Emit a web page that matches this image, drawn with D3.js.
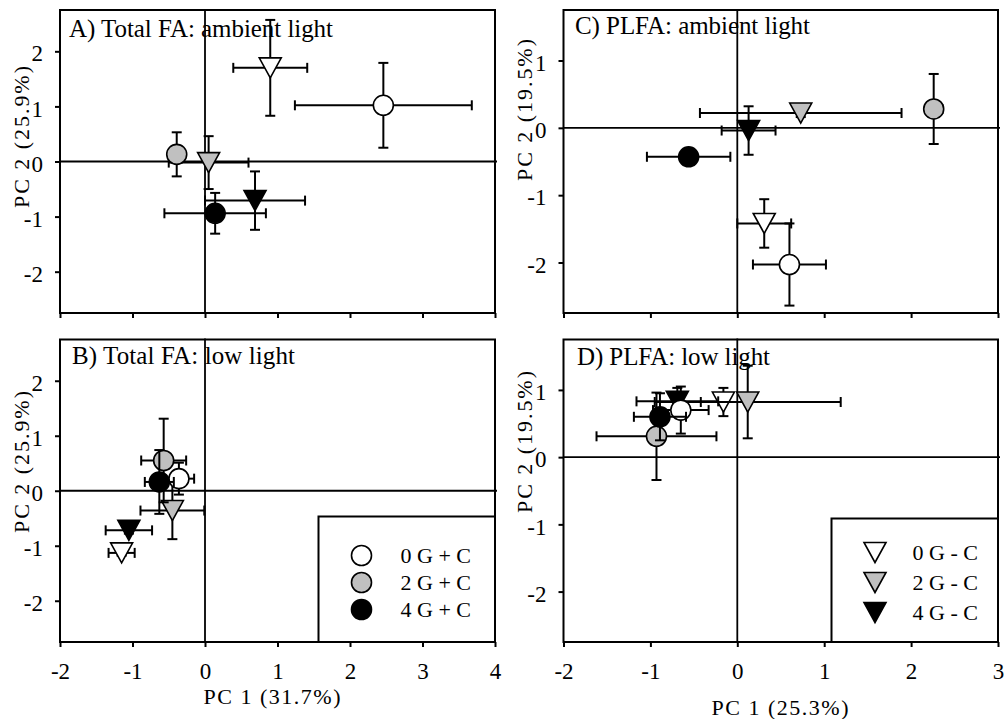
<!DOCTYPE html>
<html>
<head>
<meta charset="utf-8">
<script src="https://cdn.jsdelivr.net/npm/d3@7"></script>
<style>
body { margin: 0; background: #fff; }
text { font-family: "Liberation Serif", "Times New Roman", serif; fill: #000; }
</style>
</head>
<body>
<svg id="chart" width="1004" height="719"></svg>
<script>
// series: circles with C, triangles without C
var seriesNames = ['0 G + C', '2 G + C', '4 G + C', '0 G - C', '2 G - C', '4 G - C'];
var seriesShape = ['circle', 'circle', 'circle', 'tri', 'tri', 'tri'];
var seriesFill = ['#ffffff', '#c0c0c0', '#000000', '#ffffff', '#c0c0c0', '#000000'];
var drawOrder = [3, 4, 5, 0, 1, 2];

// A) Total FA: ambient light
var aX = [2.46, -0.39, 0.14, 0.90, 0.05, 0.69];
var aY = [1.02, 0.13, -0.94, 1.70, -0.02, -0.71];
var aXerr = [1.22, 0.10, 0.70, 0.51, 0.55, 0.69];
var aYerr = [0.77, 0.40, 0.37, 0.87, 0.48, 0.53];

// B) Total FA: low light
var bX = [-0.36, -0.57, -0.63, -1.15, -0.45, -1.05];
var bY = [0.22, 0.55, 0.16, -1.13, -0.36, -0.72];
var bXerr = [0.21, 0.31, 0.20, 0.18, 0.44, 0.32];
var bYerr = [0.29, 0.76, 0.58, 0.05, 0.52, 0.06];

// C) PLFA: ambient light
var cX = [0.60, 2.26, -0.56, 0.31, 0.73, 0.13];
var cY = [-2.03, 0.28, -0.43, -1.42, 0.22, -0.04];
var cXerr = [0.42, 0.10, 0.48, 0.31, 1.16, 0.31];
var cYerr = [0.61, 0.52, 0.10, 0.36, 0.06, 0.36];

// D) PLFA: low light
var dX = [-0.65, -0.93, -0.89, -0.16, 0.12, -0.69];
var dY = [0.70, 0.31, 0.60, 0.82, 0.82, 0.83];
var dXerr = [0.32, 0.69, 0.30, 0.26, 1.07, 0.47];
var dYerr = [0.35, 0.65, 0.35, 0.21, 0.54, 0.20];

var xTicksTotal = [-2, -1, 0, 1, 2, 3, 4];
var xTicksPlfa = [-2, -1, 0, 1, 2, 3];
var yTicksTotal = [-2, -1, 0, 1, 2];
var yTicksPlfa = [-2, -1, 0, 1];

var panelTitles = ['A) Total FA: ambient light', 'B) Total FA: low light', 'C) PLFA: ambient light', 'D) PLFA: low light'];
var xTitles = ['PC 1 (31.7%)', 'PC 1 (25.3%)'];
var yTitles = ['PC 2 (25.9%)', 'PC 2 (19.5%)'];

var svg = d3.select('#chart');
// plain hyphen minus like the original
var fmt = function(d) { return String(d); };

var panels = [
  {x: aX, y: aY, xe: aXerr, ye: aYerr, xDom: [-2, 4], yDom: [-2.75, 2.75], xTicks: xTicksTotal, yTicks: yTicksTotal,
   left: 60, right: 495, top: 10, bottom: 313, title: panelTitles[0], tx: 69, ty: 36.5, tw: 264,
   yTitle: yTitles[0], ytx: 29, yty: 137, xLabels: false},
  {x: bX, y: bY, xe: bXerr, ye: bYerr, xDom: [-2, 4], yDom: [-2.75, 2.75], xTicks: xTicksTotal, yTicks: yTicksTotal,
   left: 60, right: 495, top: 339.5, bottom: 642, title: panelTitles[1], tx: 72, ty: 363.5, tw: 223,
   yTitle: yTitles[0], ytx: 29, yty: 462, xLabels: true, xTitle: xTitles[0], xtx: 272, xty: 704},
  {x: cX, y: cY, xe: cXerr, ye: cYerr, xDom: [-2, 3], yDom: [-2.75, 1.75], xTicks: xTicksPlfa, yTicks: yTicksPlfa,
   left: 563.5, right: 998, top: 10, bottom: 313, title: panelTitles[2], tx: 575, ty: 33.5, tw: 235,
   yTitle: yTitles[1], ytx: 532, yty: 110, xLabels: false},
  {x: dX, y: dY, xe: dXerr, ye: dYerr, xDom: [-2, 3], yDom: [-2.75, 1.75], xTicks: xTicksPlfa, yTicks: yTicksPlfa,
   left: 563.5, right: 998, top: 339.5, bottom: 642, title: panelTitles[3], tx: 577, ty: 365, tw: 193,
   yTitle: yTitles[1], ytx: 532, yty: 442, xLabels: true, xTitle: xTitles[1], xtx: 780, xty: 715}
];

function triPath(cx, cy, w, h) {
  return 'M' + (cx - w / 2) + ',' + (cy - h / 2) + 'L' + (cx + w / 2) + ',' + (cy - h / 2) + 'L' + cx + ',' + (cy + h / 2) + 'Z';
}

function drawMarker(g, shape, fill, cx, cy) {
  if (shape == 'circle') {
    g.append('circle').attr('cx', cx).attr('cy', cy).attr('r', 10)
      .attr('fill', fill).attr('stroke', '#000').attr('stroke-width', 1.6);
  } else {
    g.append('path').attr('d', triPath(cx, cy, 22, 20))
      .attr('fill', fill).attr('stroke', '#000').attr('stroke-width', 1.6).attr('stroke-linejoin', 'miter');
  }
}

function drawPanel(p) {
  var x = d3.scaleLinear().domain(p.xDom).range([p.left, p.right]);
  var y = d3.scaleLinear().domain(p.yDom).range([p.bottom, p.top]);
  var g = svg.append('g');

  // title text (zero lines go over it)
  g.append('text').attr('x', p.tx).attr('y', p.ty).attr('font-size', 25)
    .attr('textLength', p.tw).attr('lengthAdjust', 'spacing').text(p.title);

  var xAxis = d3.axisBottom(x).tickValues(p.xTicks).tickSize(5).tickSizeOuter(0).tickPadding(16)
    .tickFormat(function(d) { return p.xLabels ? fmt(d) : ''; });
  var gx = g.append('g').attr('transform', 'translate(0,' + p.bottom + ')').call(xAxis);
  gx.attr('font-family', null).attr('font-size', null);
  gx.select('.domain').remove();
  gx.selectAll('line').attr('stroke', '#000').attr('stroke-width', 2);
  gx.selectAll('text').attr('font-size', 23);

  var yAxis = d3.axisLeft(y).tickValues(p.yTicks).tickSize(5).tickSizeOuter(0).tickPadding(12).tickFormat(fmt);
  var gy = g.append('g').attr('transform', 'translate(' + p.left + ',0)').call(yAxis);
  gy.attr('font-family', null).attr('font-size', null);
  gy.select('.domain').remove();
  gy.selectAll('line').attr('stroke', '#000').attr('stroke-width', 2);
  gy.selectAll('text').attr('font-size', 23).attr('dy', '0.42em');

  // zero lines
  g.append('line').attr('x1', p.left).attr('x2', p.right + 2).attr('y1', y(0)).attr('y2', y(0))
    .attr('stroke', '#000').attr('stroke-width', 1.8);
  g.append('line').attr('x1', x(0)).attr('x2', x(0)).attr('y1', p.top - 1).attr('y2', p.bottom)
    .attr('stroke', '#000').attr('stroke-width', 1.8);

  // frame
  g.append('rect').attr('x', p.left).attr('y', p.top).attr('width', p.right - p.left).attr('height', p.bottom - p.top)
    .attr('fill', 'none').attr('stroke', '#000').attr('stroke-width', 2);

  // y title
  g.append('text').attr('transform', 'translate(' + p.ytx + ',' + p.yty + ') rotate(-90)')
    .attr('text-anchor', 'middle').attr('font-size', 22)
    .attr('textLength', 142).attr('lengthAdjust', 'spacing').text(p.yTitle);

  if (p.xTitle) {
    g.append('text').attr('x', p.xtx).attr('y', p.xty).attr('text-anchor', 'middle').attr('font-size', 22)
      .attr('textLength', 137).attr('lengthAdjust', 'spacing').text(p.xTitle);
  }

  // error bars and markers
  drawOrder.forEach(function(i) {
    var cx = x(p.x[i]), cy = y(p.y[i]);
    var x0 = x(p.x[i] - p.xe[i]), x1 = x(p.x[i] + p.xe[i]);
    var y0 = y(p.y[i] - p.ye[i]), y1 = y(p.y[i] + p.ye[i]);
    var eb = g.append('g').attr('stroke', '#000').attr('stroke-width', 2);
    eb.append('line').attr('x1', x0).attr('x2', x1).attr('y1', cy).attr('y2', cy);
    eb.append('line').attr('x1', x0).attr('x2', x0).attr('y1', cy - 5).attr('y2', cy + 5);
    eb.append('line').attr('x1', x1).attr('x2', x1).attr('y1', cy - 5).attr('y2', cy + 5);
    eb.append('line').attr('x1', cx).attr('x2', cx).attr('y1', y0).attr('y2', y1);
    eb.append('line').attr('x1', cx - 5).attr('x2', cx + 5).attr('y1', y0).attr('y2', y0);
    eb.append('line').attr('x1', cx - 5).attr('x2', cx + 5).attr('y1', y1).attr('y2', y1);
    drawMarker(g, seriesShape[i], seriesFill[i], cx, cy);
  });
  return {x: x, y: y, g: g};
}

var drawn = panels.map(drawPanel);

// legends
function drawLegend(g, left, top, right, bottom, idx, mx, tx, ty0, step) {
  g.append('rect').attr('x', left).attr('y', top).attr('width', right - left).attr('height', bottom - top)
    .attr('fill', '#fff').attr('stroke', '#000').attr('stroke-width', 2);
  idx.forEach(function(i, k) {
    var ty = ty0 + k * step;
    drawMarker(g, seriesShape[i], seriesFill[i], mx, ty - 7.5);
    g.append('text').attr('x', tx).attr('y', ty).attr('font-size', 22).text(seriesNames[i]);
  });
}
drawLegend(drawn[1].g, 318.5, 516.5, 495, 642, [0, 1, 2], 361.5, 400.5, 563, 27);
drawLegend(drawn[3].g, 831.5, 518.5, 998, 642, [3, 4, 5], 875, 912.5, 560, 30);
</script>
</body>
</html>
